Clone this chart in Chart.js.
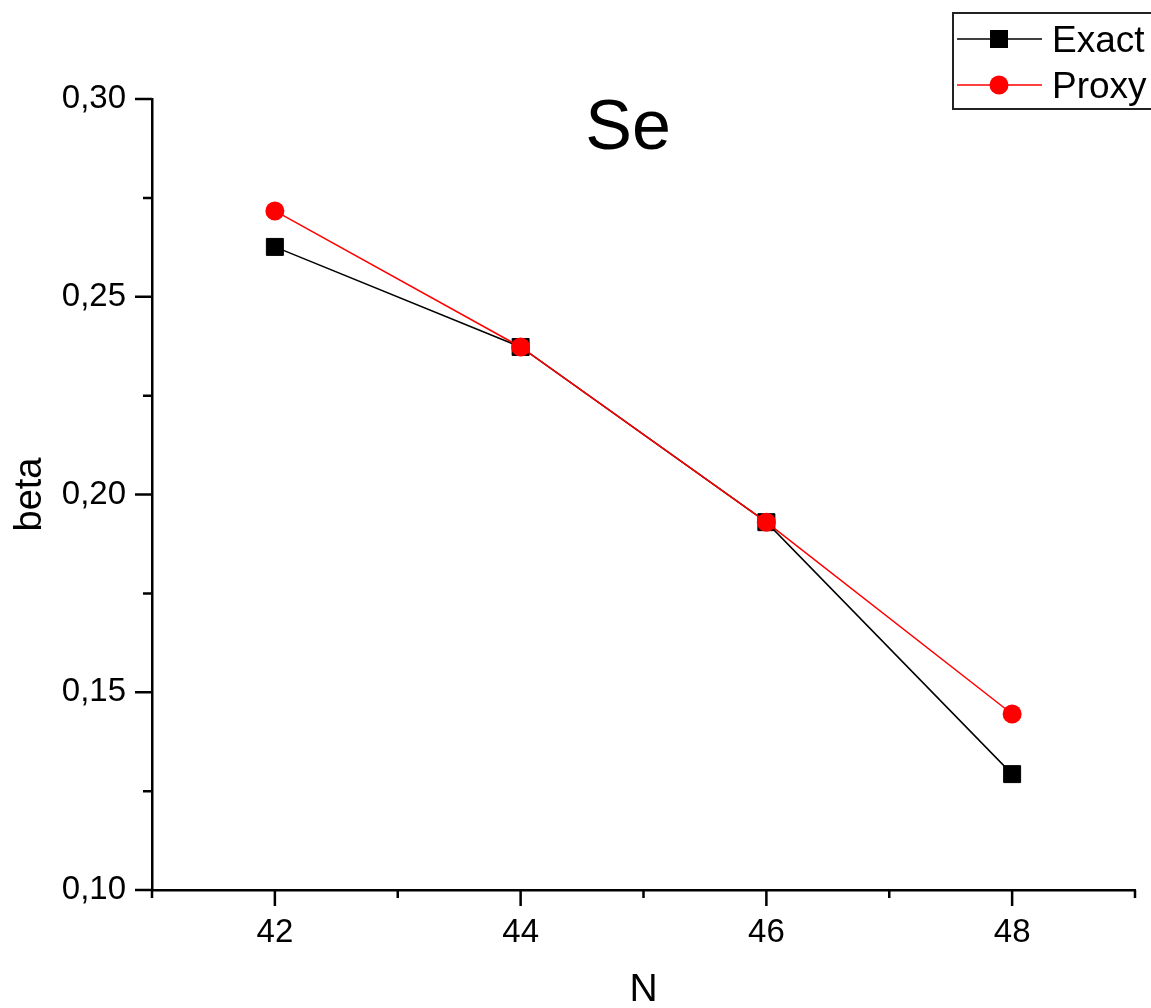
<!DOCTYPE html>
<html>
<head>
<meta charset="utf-8">
<script src="https://cdn.jsdelivr.net/npm/chart.js@4/dist/chart.umd.min.js"></script>
<style>
  html, body { margin: 0; padding: 0; background: #fff; }
  #wrap { width: 1151px; height: 1008px; }
</style>
</head>
<body>
<div id="wrap"><canvas id="lineChart" width="1151" height="1008"></canvas></div>
<script>
// Data
const nValues = [42, 44, 46, 48];
const exactBeta = [0.2626, 0.2373, 0.1930, 0.1293];
const proxyBeta = [0.2717, 0.2373, 0.1930, 0.1445];
const seriesNames = ['Exact', 'Proxy'];

const FONT = 'Liberation Sans, Arial, sans-serif';

function isMajor(v, step) {
    const r = v / step;
    return Math.abs(r - Math.round(r)) < 1e-6;
}

// Outward tick marks: long on labelled ticks, short in between
const tickMarks = {
    id: 'tickMarks',
    afterDraw(chart) {
        const ctx = chart.ctx;
        const xs = chart.scales.x, ys = chart.scales.y;
        ctx.save();
        ctx.strokeStyle = '#000';
        ctx.lineWidth = 2.5;
        ctx.beginPath();
        xs.ticks.forEach(t => {
            const px = xs.getPixelForValue(t.value);
            const len = isMajor(t.value, 2) ? 16 : 8;
            ctx.moveTo(px, ys.bottom);
            ctx.lineTo(px, ys.bottom + len);
        });
        ys.ticks.forEach(t => {
            const py = ys.getPixelForValue(t.value);
            const len = isMajor(t.value, 0.05) ? 17 : 9;
            ctx.moveTo(xs.left, py);
            ctx.lineTo(xs.left - len, py);
        });
        ctx.stroke();
        ctx.restore();
    }
};

// Title inside the plot and the boxed legend at top right
const extras = {
    id: 'extras',
    afterDraw(chart) {
        const ctx = chart.ctx;
        ctx.save();
        ctx.fillStyle = '#000';
        ctx.font = '70px ' + FONT;
        ctx.textAlign = 'center';
        ctx.textBaseline = 'alphabetic';
        ctx.fillText('Se', 628, 149);

        // legend box
        ctx.strokeStyle = '#222';
        ctx.lineWidth = 2;
        ctx.strokeRect(953, 13, 210, 96);
        const rows = [39, 85];
        chart.data.datasets.forEach((ds, i) => {
            const y = rows[i];
            ctx.strokeStyle = ds.borderColor;
            ctx.lineWidth = 1.5;
            ctx.beginPath();
            ctx.moveTo(957, y);
            ctx.lineTo(1042, y);
            ctx.stroke();
            ctx.fillStyle = ds.pointBackgroundColor;
            if (ds.pointStyle === 'rect') {
                ctx.fillRect(990, y - 9, 18, 18);
            } else {
                ctx.beginPath();
                ctx.arc(999, y, 9.5, 0, Math.PI * 2);
                ctx.fill();
            }
            ctx.fillStyle = '#000';
            ctx.font = '37px ' + FONT;
            ctx.textAlign = 'left';
            ctx.textBaseline = 'alphabetic';
            ctx.fillText(ds.label, 1052, y + 13);
        });
        ctx.restore();
    }
};

document.addEventListener('DOMContentLoaded', function() {
    const ctx = document.getElementById('lineChart').getContext('2d');
    new Chart(ctx, {
        type: 'line',
        data: {
            datasets: [{
                label: seriesNames[0],
                data: nValues.map((n, i) => ({ x: n, y: exactBeta[i] })),
                borderColor: '#000000',
                backgroundColor: '#000000',
                pointBackgroundColor: '#000000',
                pointBorderColor: '#000000',
                pointStyle: 'rect',
                pointRadius: 12,
                pointBorderWidth: 1,
                borderWidth: 1.5,
                tension: 0,
                order: 1,
            }, {
                label: seriesNames[1],
                data: nValues.map((n, i) => ({ x: n, y: proxyBeta[i] })),
                borderColor: '#ff0000',
                backgroundColor: '#ff0000',
                pointBackgroundColor: '#ff0000',
                pointBorderColor: '#ff0000',
                pointStyle: 'circle',
                pointRadius: 9.5,
                pointBorderWidth: 0,
                borderWidth: 1.5,
                tension: 0,
                order: 0,
            }]
        },
        options: {
            responsive: false,
            animation: false,
            layout: { padding: { top: 99, right: 16, left: 0, bottom: 0 } },
            plugins: {
                legend: { display: false },
                tooltip: { enabled: false },
            },
            scales: {
                x: {
                    type: 'linear',
                    min: 41,
                    max: 49,
                    afterFit: s => { s.height = 118; s.paddingLeft = 0; s.paddingRight = 0; },
                    grid: { display: false, drawTicks: false },
                    border: { display: true, color: '#000', width: 2.5 },
                    ticks: {
                        stepSize: 1,
                        padding: 23,
                        color: '#000',
                        font: { family: FONT, size: 33 },
                        maxRotation: 0,
                        autoSkip: false,
                        callback: v => isMajor(v, 2) ? String(v) : '',
                    },
                    title: {
                        display: true,
                        text: 'N',
                        color: '#000',
                        font: { family: FONT, size: 39 },
                        padding: { top: 11, bottom: -6 },
                    },
                },
                y: {
                    type: 'linear',
                    min: 0.10,
                    max: 0.30,
                    afterFit: s => { s.width = 152; },
                    grid: { display: false, drawTicks: false },
                    border: { display: true, color: '#000', width: 2.5 },
                    ticks: {
                        stepSize: 0.025,
                        padding: 26,
                        color: '#000',
                        font: { family: FONT, size: 33 },
                        autoSkip: false,
                        callback: v => isMajor(v, 0.05) ? v.toFixed(2).replace('.', ',') : '',
                    },
                    title: {
                        display: true,
                        text: 'beta',
                        color: '#000',
                        font: { family: FONT, size: 38 },
                        padding: { top: 8, bottom: 0 },
                    },
                },
            },
        },
        plugins: [tickMarks, extras],
    });
});
</script>
</body>
</html>
